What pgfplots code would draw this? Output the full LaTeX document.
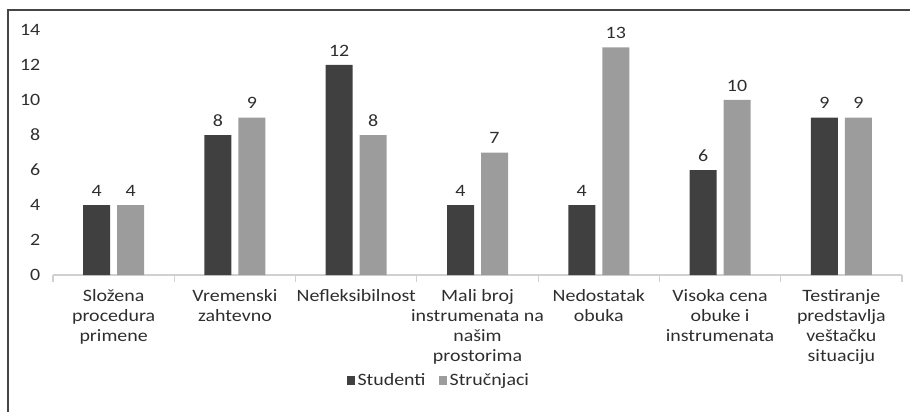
\documentclass[border=0pt]{standalone}
\usepackage{pgfplots}
\pgfplotsset{compat=1.18}
\usepackage{fontspec}
\setmainfont{Carlito}[FakeStretch=1.15]
\definecolor{barDark}{HTML}{404040}
\definecolor{barLight}{HTML}{9C9C9C}
\definecolor{axisGray}{HTML}{D0D0D0}
\definecolor{txt}{HTML}{2E2E2E}
\definecolor{frameGray}{HTML}{454545}
\newcommand{\chartfont}{\fontsize{13}{15}\selectfont}
\begin{document}
\begin{tikzpicture}
\useasboundingbox (0pt,0pt) rectangle (682.5pt,308.25pt);
% frame of the chart area (left and top edges)
\draw[frameGray, line width=1.5pt] (6pt,-5pt) -- (6pt,300.75pt) -- (690pt,300.75pt);
\begin{axis}[
  at={(39.75pt,102pt)}, anchor=south west,
  scale only axis,
  width=636.75pt, height=183.75pt,
  xmin=-0.5, xmax=6.5, ymin=0, ymax=14,
  ybar=5.25pt, bar width=20.25pt,
  axis x line*=bottom, axis y line*=left,
  x axis line style={axisGray, line width=0.8pt, -},
  y axis line style={draw=none, -},
  xtick={0,...,6},
  minor xtick={-0.5,0.5,...,6.5},
  major tick length=0pt,
  minor tick length=5pt,
  tick align=outside,
  minor tick style={axisGray, line width=0.8pt},
  xticklabels={{Složena\\procedura\\primene},{Vremenski\\zahtevno},{Nefleksibilnost},{Mali broj\\instrumenata na\\našim\\prostorima},{Nedostatak\\obuka},{Visoka cena\\obuke i\\instrumenata},{Testiranje\\predstavlja\\veštačku\\situaciju}},
  xticklabel style={align=center, font=\chartfont, text=txt, yshift=-7.5pt},
  ytick={0,2,...,14},
  yticklabel style={font=\chartfont, text=txt, xshift=-6pt},
  /pgf/number format/assume math mode=true,
  nodes near coords,
  nodes near coords style={font=\chartfont, text=txt, yshift=3pt},
  legend style={draw=none, fill=none, at={(0.455,-0.43)}, anchor=center,
    legend columns=2, font=\chartfont, text=txt,
    /tikz/every even column/.append style={column sep=8pt}},
  legend image code/.code={\fill[#1] (0pt,-3.5pt) rectangle (6pt,3pt);},
]
\addplot[fill=barDark, draw=none] coordinates {(0,4) (1,8) (2,12) (3,4) (4,4) (5,6) (6,9)};
\addplot[fill=barLight, draw=none] coordinates {(0,4) (1,9) (2,8) (3,7) (4,13) (5,10) (6,9)};
\legend{Studenti, Stručnjaci}
\end{axis}
\end{tikzpicture}
\end{document}
